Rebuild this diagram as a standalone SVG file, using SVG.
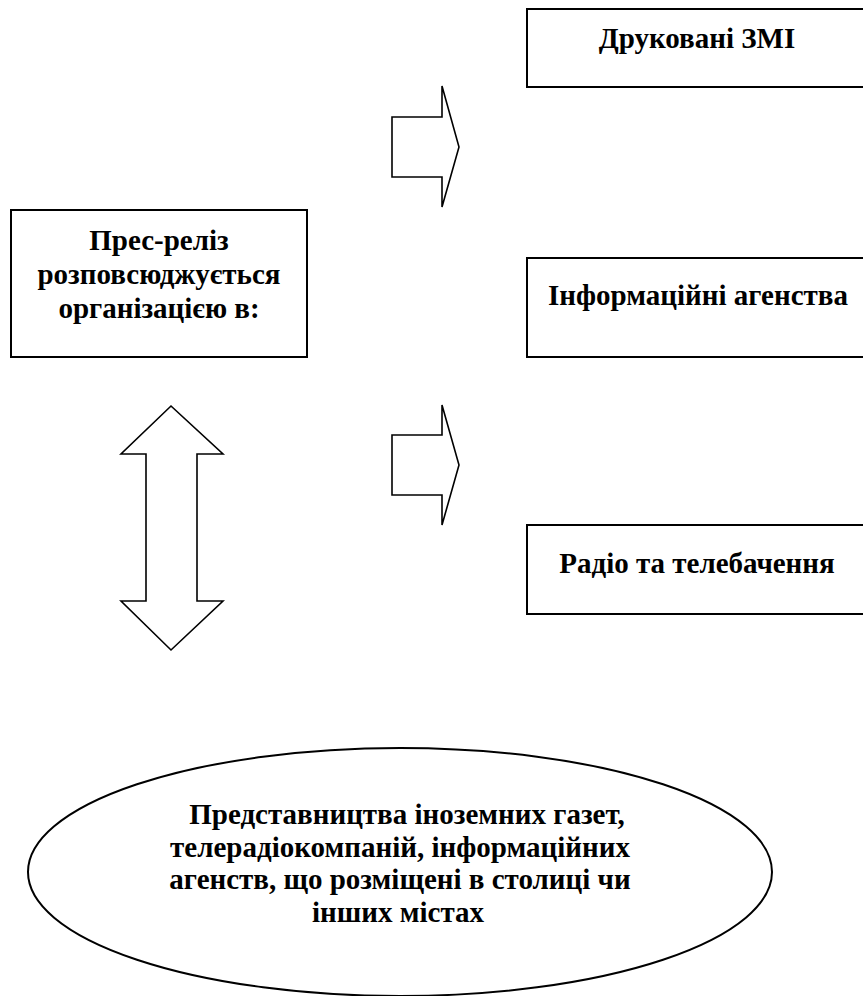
<svg xmlns="http://www.w3.org/2000/svg" width="863" height="996" viewBox="0 0 863 996">
<style>
.box{fill:#fff;stroke:#000;stroke-width:2}
.arr{fill:#fff;stroke:#000;stroke-width:1.6;stroke-linejoin:miter}
.t{font-weight:bold;font-size:29px;fill:#000;text-anchor:middle}
</style>
<rect width="863" height="996" fill="#fff"/>
<g font-family="'Liberation Serif', 'Times New Roman', Times, 'DejaVu Serif', serif">
<g id="source">
<rect class="box" x="11" y="210" width="296" height="147"/>
<text class="t" x="159" y="250">Прес-реліз</text>
<text class="t" x="159" y="284">розповсюджується</text>
<text class="t" x="159" y="318">організацією в:</text>
</g>
<g id="print">
<rect class="box" x="527" y="9" width="345" height="78"/>
<text class="t" x="697" y="48">Друковані ЗМІ</text>
</g>
<g id="agencies">
<rect class="box" x="527" y="258" width="345" height="99"/>
<text class="t" x="698" y="305">Інформаційні агенства</text>
</g>
<g id="radio">
<rect class="box" x="527" y="525" width="345" height="89"/>
<text class="t" x="697" y="573">Радіо та телебачення</text>
</g>
<g id="foreign">
<ellipse class="box" cx="400" cy="872" rx="372" ry="124" stroke-width="1.6"/>
<text class="t" x="407" y="824">Представництва іноземних газет,</text>
<text class="t" x="400" y="857">телерадіокомпаній, інформаційних</text>
<text class="t" x="400" y="889">агенств, що розміщені в столиці чи</text>
<text class="t" x="398" y="922">інших містах</text>
</g>
</g>
<g id="connectors">
<polygon class="arr" points="392,117 442,117 442,86 459,147 442,207 442,177 392,177"/>
<polygon class="arr" points="392,435 442,435 442,405 459,465 442,525 442,495 392,495"/>
<polygon class="arr" points="171,406 223,454 197,454 197,601 223,601 171,650 121,601 146,601 146,454 121,454"/>
</g>
</svg>
